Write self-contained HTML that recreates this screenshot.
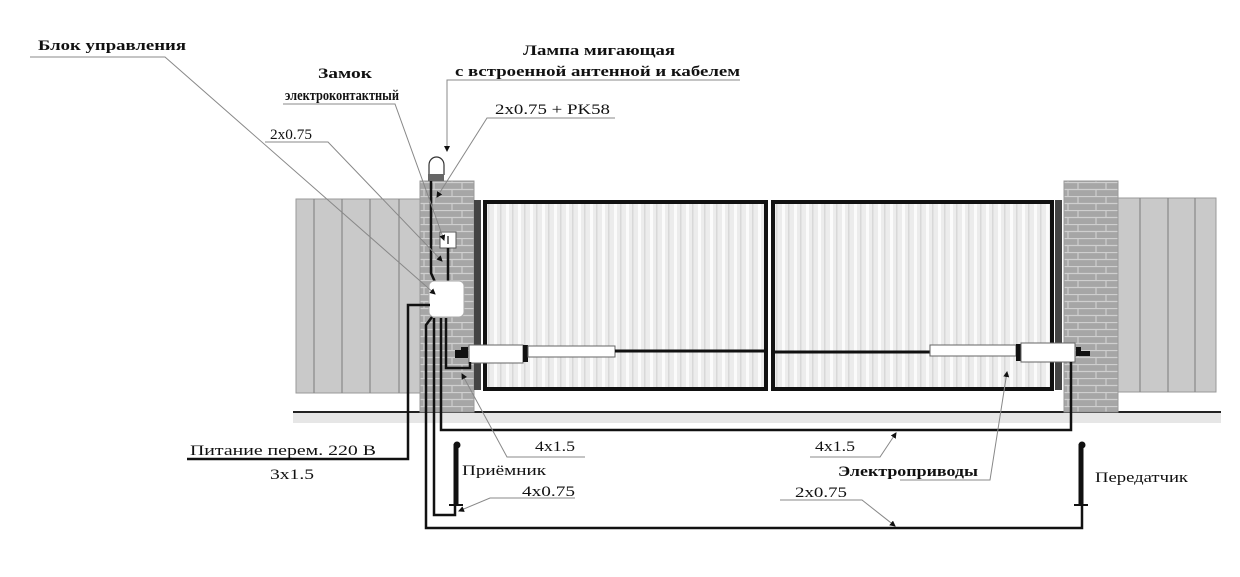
<!DOCTYPE html>
<html><head><meta charset="utf-8"><style>
html,body{margin:0;padding:0;background:#fff;}
svg{display:block;}
text{font-family:"Liberation Serif","DejaVu Serif",serif;fill:#111;}
.b{font-weight:bold;font-size:15px;}
.r{font-size:15px;}
.g{stroke:#888;stroke-width:1;fill:none;}
.w{stroke:#111;stroke-width:2.5;fill:none;}
</style></head><body>
<svg width="1240" height="577" viewBox="0 0 1240 577" xmlns="http://www.w3.org/2000/svg">
<defs>
<pattern id="brick" x="0" y="0" width="28" height="14" patternUnits="userSpaceOnUse">
<rect width="28" height="14" fill="#a6a6a6"/>
<line x1="0" y1="0.5" x2="28" y2="0.5" stroke="#cfcfcf" stroke-width="1.2"/>
<line x1="0" y1="7.5" x2="28" y2="7.5" stroke="#cfcfcf" stroke-width="1.2"/>
<line x1="14" y1="0" x2="14" y2="7" stroke="#cfcfcf" stroke-width="1.2"/>
<line x1="4" y1="7" x2="4" y2="14" stroke="#cfcfcf" stroke-width="1.2"/>
</pattern>
<pattern id="stripe" x="0" y="0" width="12" height="10" patternUnits="userSpaceOnUse">
<rect width="12" height="10" fill="#ececec"/>
<rect x="2" width="3" height="10" fill="#fbfbfb"/>
<rect x="8" width="1.5" height="10" fill="#d8d8d8"/>
</pattern>
<marker id="ar" markerWidth="6" markerHeight="6" refX="5" refY="3" orient="auto"><path d="M0,0 L6,3 L0,6z" fill="#111"/></marker>
</defs>

<rect x="293" y="413" width="928" height="10" fill="#e6e6e6"/>
<line x1="293" y1="412" x2="1221" y2="412" stroke="#222" stroke-width="2"/>

<rect x="296" y="199" width="124" height="194" fill="#c9c9c9" stroke="#999" stroke-width="1"/>
<g stroke="#888" stroke-width="1.2"><line x1="314" y1="199" x2="314" y2="393"/><line x1="342" y1="199" x2="342" y2="393"/><line x1="370" y1="199" x2="370" y2="393"/><line x1="399" y1="199" x2="399" y2="393"/></g>
<rect x="1118" y="198" width="98" height="194" fill="#c9c9c9" stroke="#999" stroke-width="1"/>
<g stroke="#888" stroke-width="1.2"><line x1="1140" y1="198" x2="1140" y2="392"/><line x1="1168" y1="198" x2="1168" y2="392"/><line x1="1195" y1="198" x2="1195" y2="392"/></g>

<rect x="420" y="181" width="54" height="231" fill="url(#brick)" stroke="#999"/>
<rect x="1064" y="181" width="54" height="231" fill="url(#brick)" stroke="#999"/>

<rect x="474" y="200" width="7" height="190" fill="#444"/>
<rect x="1055" y="200" width="7" height="190" fill="#444"/>

<rect x="485" y="202" width="281" height="187" fill="url(#stripe)" stroke="#111" stroke-width="4"/>
<rect x="773" y="202" width="279" height="187" fill="url(#stripe)" stroke="#111" stroke-width="4"/>

<path d="M429,175 L429,165 A7.5,8 0 0 1 444,165 L444,175" fill="#fff" stroke="#333" stroke-width="1.2"/>
<rect x="428" y="174" width="16" height="7" fill="#666"/>

<rect x="440" y="232" width="16" height="16" fill="#fff" stroke="#555"/>
<line x1="448" y1="236" x2="448" y2="244" stroke="#111" stroke-width="1.2"/>

<path class="w" d="M431,181 L431,273 L435,282"/>
<line class="w" x1="448" y1="248" x2="448" y2="282"/>

<rect x="429" y="281" width="35" height="36" rx="5" fill="#fff" stroke="#aaa"/>

<path d="M455,350 h6 v-3 h7 v11 h-13z" fill="#111"/>
<rect x="469" y="345" width="54" height="18" fill="#fff" stroke="#666"/>
<rect x="523" y="345" width="5" height="17" fill="#111"/>
<rect x="528" y="346" width="87" height="11" fill="#fff" stroke="#666"/>
<line x1="615" y1="351" x2="766" y2="351" stroke="#111" stroke-width="3"/>

<line x1="775" y1="352" x2="930" y2="352" stroke="#111" stroke-width="3"/>
<rect x="930" y="345" width="86" height="11" fill="#fff" stroke="#666"/>
<rect x="1016" y="344" width="5" height="17" fill="#111"/>
<rect x="1021" y="343" width="54" height="19" fill="#fff" stroke="#666"/>
<path d="M1076,347 h5 v4 h9 v5 h-14z" fill="#111"/>

<path class="w" d="M187,459 L408,459 L408,305 L430,305"/>
<path class="w" d="M432,317 L426,325 L426,528 L1082,528 L1082,505"/>
<path class="w" d="M434,318 L434,515 L455,515 L455,505"/>
<path class="w" d="M441,318 L441,430 L1071,430 L1071,362"/>
<path class="w" d="M446,318 L446,368 L470,368 L470,362"/>

<line x1="456" y1="444" x2="456" y2="505" stroke="#111" stroke-width="5"/>
<circle cx="457" cy="445" r="3.5" fill="#111"/>
<line x1="449" y1="505" x2="463" y2="505" stroke="#111" stroke-width="2"/>
<line x1="1081" y1="444" x2="1081" y2="505" stroke="#111" stroke-width="5"/>
<circle cx="1082" cy="445" r="3.5" fill="#111"/>
<line x1="1074" y1="505" x2="1088" y2="505" stroke="#111" stroke-width="2"/>

<path class="g" d="M30,57 L165,57 L435,294" marker-end="url(#ar)"/>
<path class="g" d="M283,104 L395,104 L444,240" marker-end="url(#ar)"/>
<path class="g" d="M265,142 L328,142 L442,261" marker-end="url(#ar)"/>
<path class="g" d="M740,80 L447,80 L447,150"/>
<path d="M444,146 L450,146 L447,152z" fill="#111"/>
<path class="g" d="M615,118 L487,118 L437,197" marker-end="url(#ar)"/>
<path class="g" d="M585,457 L507,457 L462,374" marker-end="url(#ar)"/>
<path class="g" d="M575,498 L490,498 L459,511" marker-end="url(#ar)"/>
<path class="g" d="M810,457 L880,457 L896,433" marker-end="url(#ar)"/>
<path class="g" d="M900,480 L990,480 L1007,372" marker-end="url(#ar)"/>
<path class="g" d="M780,500 L862,500 L895,526" marker-end="url(#ar)"/>

<text class="b" x="38" y="50" textLength="148" lengthAdjust="spacingAndGlyphs">Блок управления</text>
<text class="b" x="318" y="78" textLength="54" lengthAdjust="spacingAndGlyphs">Замок</text>
<text class="b" x="285" y="100" textLength="114" lengthAdjust="spacingAndGlyphs">электроконтактный</text>
<text class="r" x="270" y="139" textLength="42" lengthAdjust="spacingAndGlyphs">2x0.75</text>
<text class="b" x="523" y="55" textLength="152" lengthAdjust="spacingAndGlyphs">Лампа мигающая</text>
<text class="b" x="455" y="76" textLength="285" lengthAdjust="spacingAndGlyphs">с встроенной антенной и кабелем</text>
<text class="r" x="495" y="114" textLength="115" lengthAdjust="spacingAndGlyphs">2x0.75 + PK58</text>
<text class="r" x="190" y="455" textLength="186" lengthAdjust="spacingAndGlyphs">Питание  перем.  220 В</text>
<text class="r" x="270" y="479" textLength="44" lengthAdjust="spacingAndGlyphs">3x1.5</text>
<text class="r" x="535" y="451" textLength="40" lengthAdjust="spacingAndGlyphs">4x1.5</text>
<text class="r" x="462" y="475" textLength="84" lengthAdjust="spacingAndGlyphs">Приёмник</text>
<text class="r" x="522" y="496" textLength="53" lengthAdjust="spacingAndGlyphs">4x0.75</text>
<text class="r" x="815" y="451" textLength="40" lengthAdjust="spacingAndGlyphs">4x1.5</text>
<text class="b" x="838" y="476" textLength="140" lengthAdjust="spacingAndGlyphs">Электроприводы</text>
<text class="r" x="795" y="497" textLength="52" lengthAdjust="spacingAndGlyphs">2x0.75</text>
<text class="r" x="1095" y="482" textLength="93" lengthAdjust="spacingAndGlyphs">Передатчик</text>
</svg>
</body></html>
